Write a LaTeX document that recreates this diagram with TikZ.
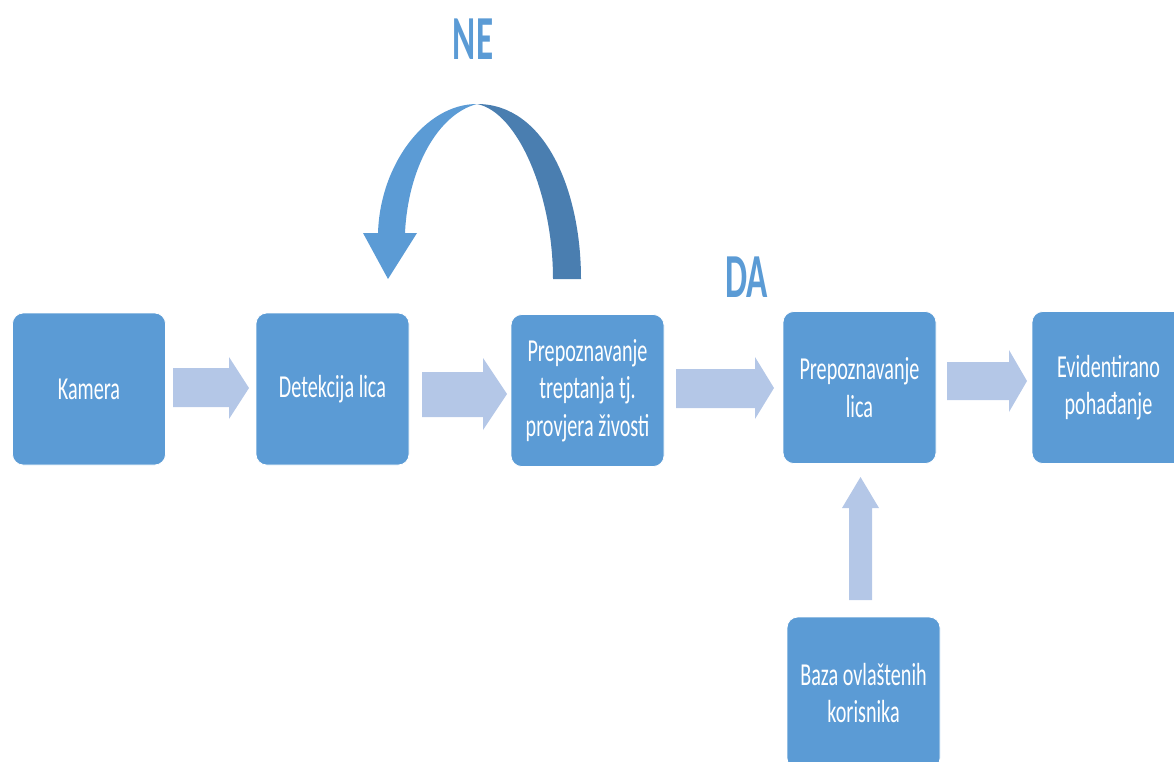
\documentclass[tikz,border=0pt]{standalone}
\usepackage{fontspec}
\setmainfont{Carlito}
\newfontfamily\boxfont[FakeStretch=0.63]{Carlito}
\newfontfamily\headfont[FakeStretch=0.56]{Carlito}
\definecolor{boxblue}{HTML}{5B9BD5}
\definecolor{arrowlight}{HTML}{B4C7E7}
\definecolor{arcdark}{HTML}{4A7EB0}
\begin{document}
\begin{tikzpicture}[x=0.75pt,y=-0.75pt,
  procbox/.style={draw=white, line width=0.6pt, fill=boxblue, rounded corners=8pt,
    minimum width=114.75pt, minimum height=114pt, text=white, align=center,
    font=\boxfont\fontsize{24}{28}\selectfont, inner sep=0pt},
  blockarrow/.style={fill=arrowlight, draw=none},
  headtext/.style={text=boxblue, font=\headfont\bfseries\fontsize{47}{50}\selectfont, inner sep=0pt}]
\useasboundingbox (0,0) rectangle (1174,761);
\clip (0,0) rectangle (1174,761);
% boxes
\node[procbox] (kam) at (89,389) {Kamera};
\node[procbox] (det) at (332.5,389) {Detekcija lica};
\node[procbox] (tre) at (587.5,390.5) {Prepoznavanje\\treptanja tj.\\provjera živosti};
\node[procbox] (pre) at (859.5,387.5) {Prepoznavanje\\lica};
\node[procbox] (evi) at (1108.5,387.5) {Evidentirano\\pohađanje};
\node[procbox] (baz) at (863.5,693) {Baza ovlaštenih\\korisnika};
% block arrows
\fill[blockarrow] (173,368) -- (229,368) -- (229,357) -- (249,388) -- (229,419) -- (229,407) -- (173,407) -- cycle;
\fill[blockarrow] (422,372) -- (483,372) -- (483,358) -- (507,394) -- (483,430) -- (483,417) -- (422,417) -- cycle;
\fill[blockarrow] (676,369) -- (755,369) -- (755,357) -- (774,388) -- (755,419) -- (755,408) -- (676,408) -- cycle;
\fill[blockarrow] (947,362) -- (1009,362) -- (1009,350) -- (1027,381) -- (1009,412) -- (1009,400) -- (947,400) -- cycle;
\fill[blockarrow] (849,600) -- (849,508) -- (842,508) -- (860.5,477) -- (879,508) -- (872,508) -- (872,600) -- cycle;
% curved arrow (back part)
\fill[arcdark] (581,279) .. controls (581,190) and (545,104) .. (477,104)
  .. controls (518,112) and (553,195) .. (553,279) -- cycle;
% curved arrow (front part with head)
\fill[boxblue] (477,104) .. controls (425,104) and (380,165) .. (378,233)
  -- (363,233) -- (388,279) -- (417,233) -- (405,233)
  .. controls (408,168) and (438,114) .. (477,104) -- cycle;
% labels
\node[headtext] (ne) at (473,39) {NE};
\node[headtext] (da) at (746.5,277) {DA};
\end{tikzpicture}
\end{document}
